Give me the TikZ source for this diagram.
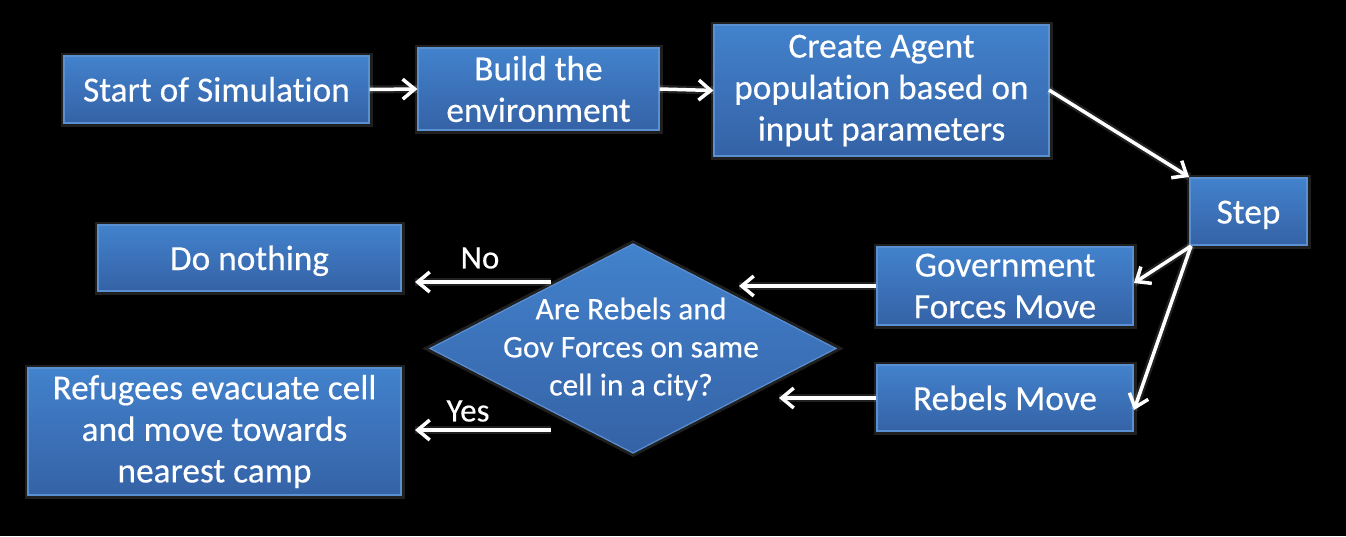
\documentclass[tikz,border=0pt]{standalone}
\usepackage{fontspec}
\setmainfont{Carlito}[RawFeature={-liga;-dlig}, FakeBold=0.3]
\usetikzlibrary{arrows.meta,calc}
\definecolor{boxtop}{HTML}{4282CC}
\definecolor{boxbot}{HTML}{3562A6}
\definecolor{boxborder}{HTML}{5A8FD2}
\begin{document}
\begin{tikzpicture}[x=1pt,y=-1pt,
  box/.style={draw=boxborder, line width=1.2pt, top color=boxtop, bottom color=boxbot,
    text=white, align=center, inner sep=0pt, font=\fontsize{35.3}{41.5}\selectfont,
    preaction={draw=white, draw opacity=0.12, line width=7pt}},
  one/.style={text height=30pt, text depth=6pt},
  arr/.style={draw=white, line width=3.5pt, -{Straight Barb[length=12pt,width=20pt,line width=3.5pt]},
    preaction={draw=white, draw opacity=0.12, line width=8pt, -}},
  lbl/.style={text=white, inner sep=0pt, font=\fontsize{33}{38}\selectfont}]
\fill[black] (0,0) rectangle (1346,536);
\useasboundingbox (0,0) rectangle (1346,536);

\node[box, one, minimum width=305pt, minimum height=67pt] (start) at (216.5,89.5) {Start of Simulation};
\node[box, minimum width=241pt, minimum height=82pt] (build) at (538.5,89) {Build the\\environment};
\node[box, minimum width=335pt, minimum height=131pt] (create) at (881.5,90.5) {Create Agent\\population based on\\input parameters};
\node[box, one, minimum width=117pt, minimum height=67pt] (step) at (1248.5,211.5) {Step};
\node[box, minimum width=256pt, minimum height=78pt] (gov) at (1005,286) {Government\\Forces Move};
\node[box, one, minimum width=256pt, minimum height=66pt] (reb) at (1005,398) {Rebels Move};
\node[box, one, minimum width=303pt, minimum height=66pt] (nothing) at (249.5,258) {Do nothing};
\node[box, minimum width=373pt, minimum height=127pt] (refugees) at (214.5,431.5) {Refugees evacuate cell\\and move towards\\nearest camp};

% decision diamond
\coordinate (dN) at (633,244);
\coordinate (dE) at (836,348.5);
\coordinate (dS) at (633,453);
\coordinate (dW) at (430,348.5);
\path[draw=boxborder, line width=1.2pt, top color=boxtop, bottom color=boxbot,
  preaction={draw=white, draw opacity=0.12, line width=7pt}]
  (dN) -- (dE) -- (dS) -- (dW) -- cycle;
\node[text=white, align=center, inner sep=0pt, font=\fontsize{31.5}{38}\selectfont] (dec) at (631,349)
  {Are Rebels and\\Gov Forces on same\\cell in a city?};

% free arrow ends
\coordinate (cs1) at (1049,90);
\coordinate (ct1) at (1189,177);
\coordinate (ss1) at (1191,246);
\coordinate (gt1) at (1134,283);
\coordinate (rt1) at (1134,410);
\coordinate (gd) at (739,286);
\coordinate (rd) at (779,398);
\coordinate (no0) at (551,282);
\coordinate (no1) at (415,282);
\coordinate (yes0) at (551,430);
\coordinate (yes1) at (415,430);

\draw[arr] (start.east) -- (build.west);
\draw[arr] (build.east) -- (create.west);
\draw[arr] (cs1) -- (ct1);
\draw[arr] (ss1) -- (gt1);
\draw[arr] (ss1) -- (rt1);
\draw[arr] (gov.west) -- (gd);
\draw[arr] (reb.west) -- (rd);
\draw[arr] (no0) -- (no1);
\draw[arr] (yes0) -- (yes1);

\node[lbl] (nolbl) at (480,258) {No};
\node[lbl] (yeslbl) at (468,411) {Yes};
\end{tikzpicture}
\end{document}
